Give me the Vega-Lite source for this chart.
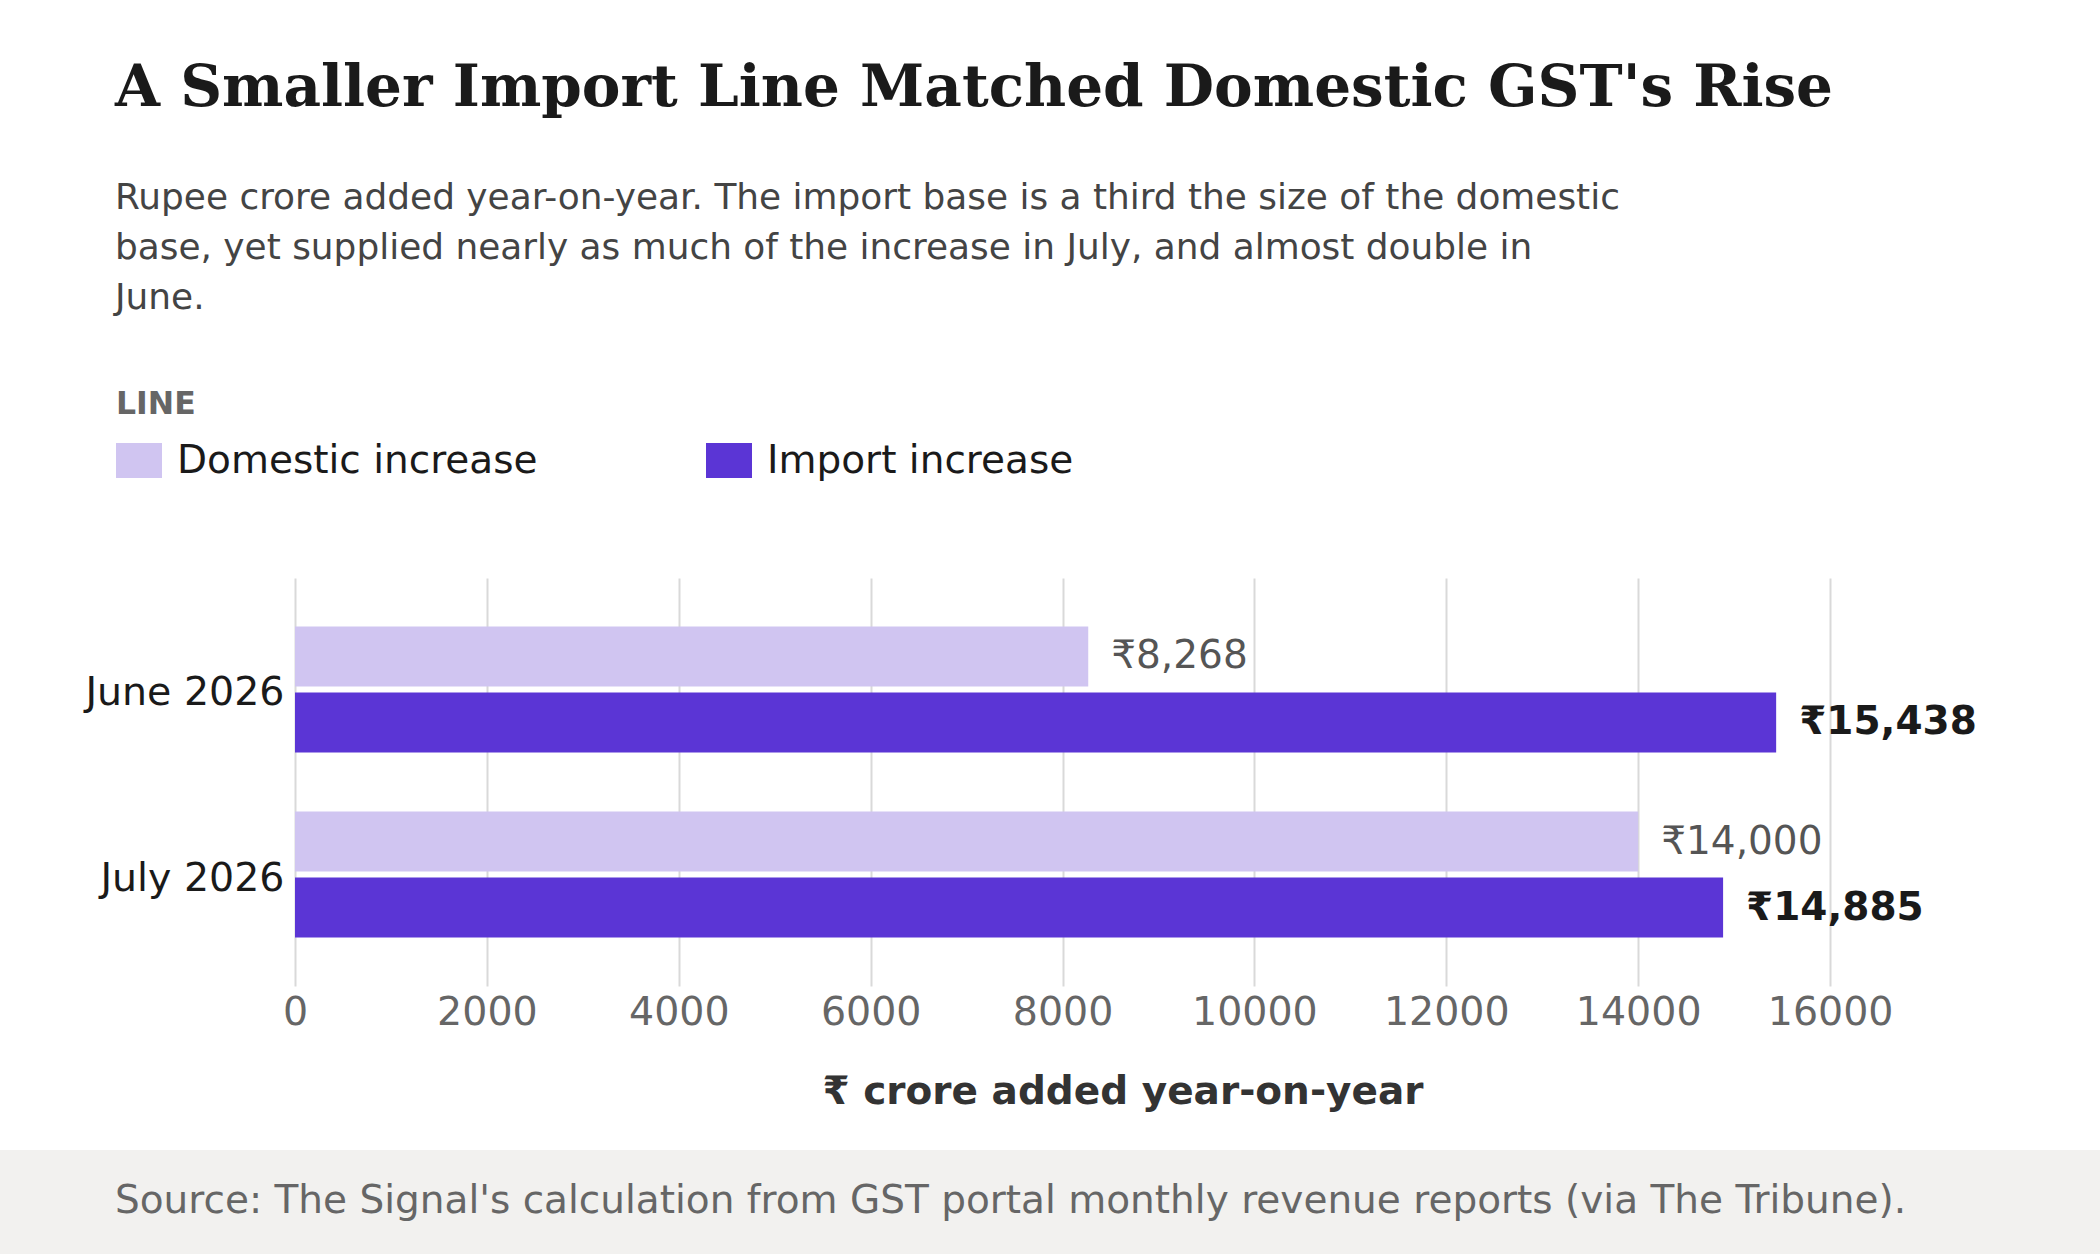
{
  "$schema": "https://vega.github.io/schema/vega-lite/v6.json",
  "padding": {"top": 60, "left": 0, "right": 0, "bottom": 0},
  "background": "#ffffff",
  "title": {
    "text": "A Smaller Import Line Matched Domestic GST's Rise",
    "subtitle": [
      "Rupee crore added year-on-year. The import base is a third the size of the domestic",
      "base, yet supplied nearly as much of the increase in July, and almost double in",
      "June."
    ],
    "anchor": "start",
    "frame": "bounds",
    "dx": 115,
    "offset": 73,
    "font": "DejaVu Serif",
    "fontSize": 58,
    "fontWeight": "bold",
    "color": "#1a1a1a",
    "subtitleFont": "DejaVu Sans",
    "subtitleFontSize": 35.9,
    "subtitleColor": "#444444",
    "subtitleLineHeight": 50,
    "subtitlePadding": 63
  },
  "spacing": 38,
  "resolve": {"scale": {"color": "independent"}},
  "vconcat": [
    {
      "spacing": 0,
      "resolve": {"scale": {"color": "independent"}},
      "hconcat": [
        {
          "width": 1,
          "height": 1,
          "data": {"values": [{}]},
          "mark": {"type": "text", "text": ""},
          "encoding": {}
        },
        {
          "width": 1655,
          "height": 408,
          "data": {
            "values": [
              {"month": "June 2026", "line": "Domestic increase", "value": 8268},
              {"month": "June 2026", "line": "Import increase", "value": 15438},
              {"month": "July 2026", "line": "Domestic increase", "value": 14000},
              {"month": "July 2026", "line": "Import increase", "value": 14885}
            ]
          },
          "encoding": {
            "y": {
              "field": "month",
              "type": "nominal",
              "sort": ["June 2026", "July 2026"],
              "scale": {"paddingInner": 0.319, "paddingOuter": 0.262},
              "axis": {
                "title": null,
                "domain": false,
                "ticks": false,
                "tickSize": 0,
                "grid": false,
                "labelFontSize": 39.5,
                "labelColor": "#1a1a1a",
                "labelPadding": 11,
                "labelOffset": 4,
                "labelLimit": 400,
                "minExtent": 294,
                "maxExtent": 294
              }
            },
            "yOffset": {
              "field": "line",
              "type": "nominal",
              "sort": ["Domestic increase", "Import increase"],
              "scale": {"domain": ["Domestic increase", "Import increase"], "paddingInner": 0.09, "paddingOuter": 0}
            },
            "x": {
              "field": "value",
              "type": "quantitative",
              "scale": {"domain": [0, 17250], "nice": false, "zero": true},
              "axis": {
                "values": [0, 2000, 4000, 6000, 8000, 10000, 12000, 14000, 16000],
                "format": "d",
                "title": "₹ crore added year-on-year",
                "grid": true,
                "gridColor": "#d9d9d9",
                "gridWidth": 2,
                "domain": false,
                "ticks": false,
                "tickSize": 0,
                "labelFlush": false,
                "labelOverlap": false,
                "labelFontSize": 39.5,
                "labelColor": "#666666",
                "labelPadding": 7,
                "titleFontSize": 39,
                "titleFontWeight": "bold",
                "titleColor": "#333333",
                "titlePadding": 41
              }
            }
          },
          "layer": [
            {
              "mark": {"type": "bar"},
              "encoding": {
                "color": {
                  "field": "line",
                  "type": "nominal",
                  "scale": {"domain": ["Domestic increase", "Import increase"], "range": ["#d0c5f1", "#5b35d5"]},
                  "legend": {
                    "title": "LINE",
                    "orient": "none",
                    "legendX": -179,
                    "legendY": -189,
                    "direction": "horizontal",
                    "columns": 2,
                    "columnPadding": 168,
                    "padding": 0,
                    "titleFontSize": 31.5,
                    "titleFontWeight": "bold",
                    "titleColor": "#666666",
                    "titlePadding": 17,
                    "labelFontSize": 39,
                    "labelColor": "#1a1a1a",
                    "labelLimit": 1000,
                    "labelOffset": 15,
                    "symbolType": "M-1,-0.76H1V0.76H-1Z",
                    "symbolSize": 2116,
                    "symbolStrokeWidth": 0,
                    "symbolOpacity": 1
                  }
                }
              }
            },
            {
              "transform": [{"filter": "datum.line === 'Domestic increase'"}],
              "mark": {"type": "text", "align": "left", "baseline": "middle", "dx": 23, "fontSize": 39, "color": "#555555"},
              "encoding": {"text": {"field": "value", "type": "quantitative", "format": "$,.0f"}}
            },
            {
              "transform": [{"filter": "datum.line === 'Import increase'"}],
              "mark": {"type": "text", "align": "left", "baseline": "middle", "dx": 23, "fontSize": 39, "fontWeight": "bold", "color": "#1a1a1a"},
              "encoding": {"text": {"field": "value", "type": "quantitative", "format": "$,.0f"}}
            }
          ]
        }
      ]
    },
    {
      "width": 2100,
      "height": 104,
      "view": {"fill": "#f2f1ef", "stroke": null},
      "title": {
        "text": "Source: The Signal's calculation from GST portal monthly revenue reports (via The Tribune).",
        "orient": "top",
        "anchor": "start",
        "frame": "group",
        "dx": 115,
        "offset": -71,
        "font": "DejaVu Sans",
        "fontSize": 39,
        "fontWeight": "normal",
        "color": "#666666"
      },
      "data": {"values": [{}]},
      "mark": {"type": "text", "text": ""},
      "encoding": {}
    }
  ],
  "config": {
    "view": {"stroke": null},
    "font": "DejaVu Sans",
    "locale": {"number": {"decimal": ".", "thousands": ",", "grouping": [3], "currency": ["₹", ""]}}
  }
}
